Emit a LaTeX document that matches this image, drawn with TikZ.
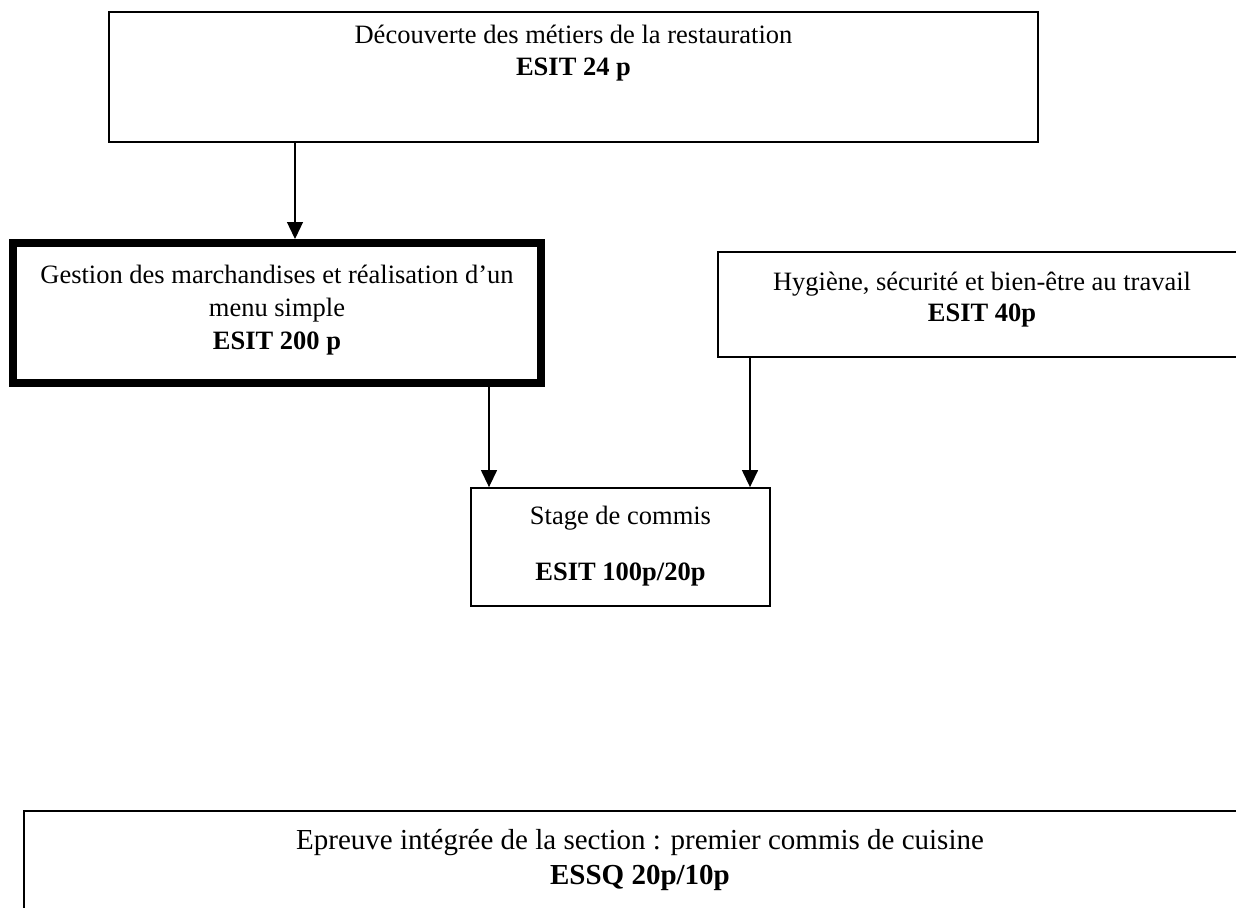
\documentclass[tikz,border=0pt]{standalone}
\usepackage{fontspec}
\setmainfont{Liberation Serif}
\usetikzlibrary{arrows.meta}
\tikzset{
  boxthin/.style={draw=black, line width=1.8pt, fill=white, inner sep=0pt},
  boxthick/.style={draw=black, line width=8pt, fill=white, inner sep=0pt},
  txt/.style={align=center, inner sep=0pt, anchor=north, font=\fontsize{26.5}{32}\selectfont},
  arr/.style={line width=1.3pt, -{Triangle[length=17pt,width=16pt]}}
}
\begin{document}
\begin{tikzpicture}[x=1pt,y=-1pt]
\useasboundingbox (0,0) rectangle (1236,907);
\clip (0,0) rectangle (1236,907);
\fill[white] (0,0) rectangle (1236,907);
% boxes
\node[boxthin, minimum width=929pt, minimum height=130pt] (top) at (573.5,77) {};
\node[boxthick, minimum width=528pt, minimum height=140pt] (gest) at (277,313) {};
\node[boxthin, minimum width=528pt, minimum height=105pt] (hyg) at (982,304.5) {};
\node[boxthin, minimum width=299pt, minimum height=118pt] (stage) at (620.5,547) {};
\node[boxthin, minimum width=1232pt, minimum height=190pt] (epr) at (640,906) {};
% texts
\node[txt] (toptxt) at (573.5,25) {Découverte des métiers de la restauration\\ \textbf{ESIT 24 p}};
\node[txt, font=\fontsize{26.5}{33}\selectfont] (gesttxt) at (277,265) {Gestion des marchandises et réalisation d’un\\ menu simple\\ \textbf{ESIT 200 p}};
\node[txt, font=\fontsize{26.5}{31}\selectfont] (hygtxt) at (982,272) {Hygiène, sécurité et bien-être au travail\\ \textbf{ESIT 40p}};
\node[txt] (stagetxt) at (620.5,506) {Stage de commis\\[24pt] \textbf{ESIT 100p/20p}};
\node[txt, font=\fontsize{29}{35}\selectfont] (eprtxt) at (640,829) {Epreuve intégrée de la section : premier commis de cuisine\\ \textbf{ESSQ 20p/10p}};
% connector x positions
\coordinate (xa) at (295,0);
\coordinate (xb) at (489,0);
\coordinate (xc) at (750,0);
% connectors
\draw[arr] (top.south -| xa) -- (gest.north -| xa);
\draw[arr] (gest.south -| xb) -- (stage.north -| xb);
\draw[arr] (hyg.south -| xc) -- (stage.north -| xc);
\end{tikzpicture}
\end{document}
